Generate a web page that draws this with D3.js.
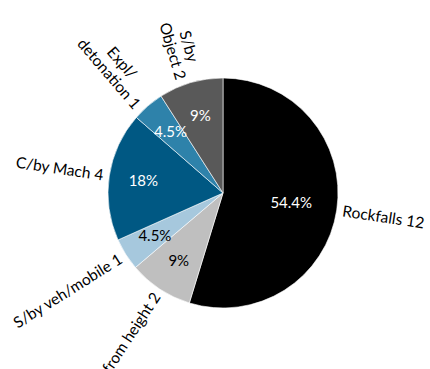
<!DOCTYPE html>
<html>
<head>
<meta charset="utf-8">
<script src="https://cdn.jsdelivr.net/npm/d3@7"></script>
<style>
  html, body { margin: 0; padding: 0; background: #fff; }
  svg { display: block; }
  text { font-family: Lato, "Open Sans", sans-serif; }
</style>
</head>
<body>
<svg id="chart" width="430" height="369"></svg>
<script>
// Incident causes, clockwise from 12 o'clock
const categories = ["Rockfalls 12", "Fall from height 2", "S/by veh/mobile 1", "C/by Mach 4", "Expl/\ndetonation 1", "S/by\nObject 2"];
const percents   = [54.4, 9, 4.5, 18, 4.5, 9];
const valueLabels = ["54.4%", "9%", "4.5%", "18%", "4.5%", "9%"];
const colors     = ["#000000", "#bfbfbf", "#a6c8dd", "#005883", "#2e82aa", "#595959"];
const valueTextColors = ["#ffffff", "#000000", "#000000", "#ffffff", "#ffffff", "#ffffff"];

const W = 430, H = 369;
const cx = 223, cy = 193, R = 115;

const svg = d3.select("#chart");
const g = svg.append("g").attr("transform", `translate(${cx},${cy})`);

const data = categories.map((c, i) => ({ name: c, value: percents[i], label: valueLabels[i], color: colors[i], tcolor: valueTextColors[i] }));

const pie = d3.pie().value(d => d.value).sort(null);
const arcs = pie(data);
const arc = d3.arc().innerRadius(0).outerRadius(R);

g.selectAll("path.slice")
  .data(arcs)
  .enter().append("path")
  .attr("class", "slice")
  .attr("d", arc)
  .attr("fill", d => d.data.color)
  .attr("stroke", "#ffffff")
  .attr("stroke-width", 0.6);

// Percentage labels inside the slices; the dominant slice keeps its label nearer the centre
const pctPos = d => {
  const share = (d.endAngle - d.startAngle) / (2 * Math.PI);
  const rr = R * (share > 0.5 ? 0.6 : 0.7);
  return d3.arc().innerRadius(rr).outerRadius(rr).centroid(d);
};
g.selectAll("text.pct")
  .data(arcs)
  .enter().append("text")
  .attr("class", "pct")
  .attr("transform", d => `translate(${pctPos(d)})`)
  .attr("text-anchor", "middle")
  .attr("dy", "0.35em")
  .attr("font-size", 15)
  .attr("fill", d => d.data.tcolor)
  .text(d => d.data.label);

// Category labels outside, rotated along the radius
const gap = 6;
const fontSize = 15.5, lineH = 17;
arcs.forEach(d => {
  const mid = (d.startAngle + d.endAngle) / 2;
  const deg = mid * 180 / Math.PI;
  const rightSide = deg < 180;
  const rot = rightSide ? deg - 90 : deg - 270;
  const lines = d.data.name.split("\n");
  const lg = g.append("g");
  const texts = lines.map((ln, i) => lg.append("text")
    .attr("text-anchor", "middle")
    .attr("font-size", fontSize)
    .attr("fill", "#000")
    .attr("y", (i - (lines.length - 1) / 2) * lineH)
    .attr("dy", "0.35em")
    .text(ln));
  const w = d3.max(texts, t => t.node().getComputedTextLength());
  const dist = R + gap + w / 2;
  const x = Math.sin(mid) * dist, y = -Math.cos(mid) * dist;
  lg.attr("transform", `translate(${x},${y}) rotate(${rot})`);
});
</script>
</body>
</html>
